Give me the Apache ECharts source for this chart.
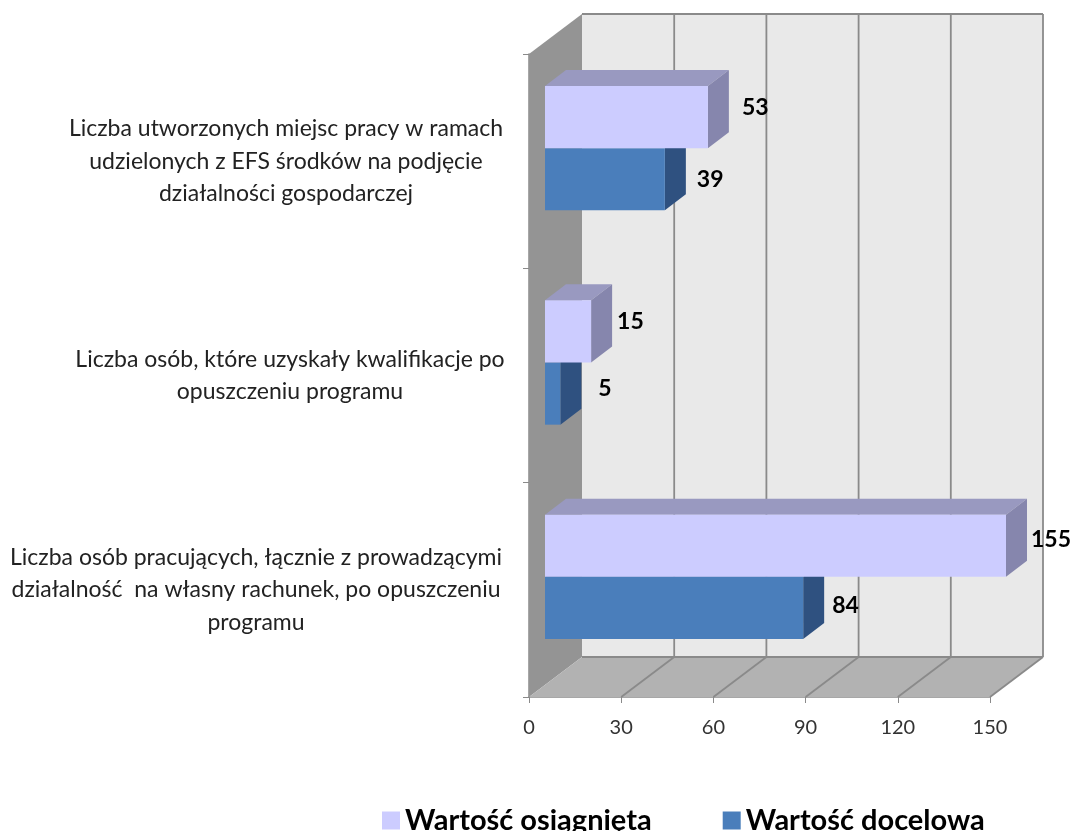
<!DOCTYPE html>
<html>
<head>
<meta charset="utf-8">
<script src="https://cdn.jsdelivr.net/npm/echarts@6/dist/echarts.min.js"></script>
<style>
  html, body { margin: 0; background: #fff; }
  #main { width: 1074px; height: 831px; }
</style>
</head>
<body>
<div id="main"></div>
<script>
const categories = [
  'Liczba utworzonych miejsc pracy w ramach\nudzielonych z EFS środków na podjęcie\ndziałalności gospodarczej',
  'Liczba osób, które uzyskały kwalifikacje po\nopuszczeniu programu',
  'Liczba osób pracujących, łącznie z prowadzącymi\ndziałalność  na własny rachunek, po opuszczeniu\nprogramu'
];
const osiagnieta = [53, 15, 155];
const docelowa = [39, 5, 84];
const xTicks = [0, 30, 60, 90, 120, 150];
const axisMax = 150;

// pseudo-3D offsets, same look as the old Excel chart
const wallDepth = [53, -40];
const barInset = [16, -13];
const barDepth = [21, -16];
const barShare = 0.29;

// Excel placed the data labels unevenly: gap from the side face, lift from bar centre
const gapOsiagnieta = [13, 5, 4];
const gapDocelowa = [11, 17, 8];
const liftOsiagnieta = [10, 10, 6];
const liftDocelowa = [0, 5, 2];

// horizontal shift of each category label, they are not centred on one line
const labelShift = [0, 4, -30];

const font = 'Lato, sans-serif';
const chart = echarts.init(document.getElementById('main'));

function poly(points, fill) {
  return { type: 'polygon', shape: { points: points }, style: { fill: fill } };
}

function line(a, b) {
  return {
    type: 'line',
    shape: { x1: a[0], y1: a[1], x2: b[0], y2: b[1] },
    style: { stroke: '#8a8a8a', lineWidth: 1.8 }
  };
}

function renderWalls(params, api) {
  const dx = wallDepth[0], dy = wallDepth[1];
  const top = params.coordSys.y;
  const bottom = top + params.coordSys.height;
  const x0 = api.coord([0, 0])[0];
  const x1 = api.coord([axisMax, 0])[0];
  const children = [
    poly([[x0 + dx, top + dy], [x1 + dx, top + dy], [x1 + dx, bottom + dy], [x0 + dx, bottom + dy]], '#e9e9e9'),
    poly([[x0, top], [x0 + dx, top + dy], [x0 + dx, bottom + dy], [x0, bottom]], '#949494'),
    poly([[x0, bottom], [x0 + dx, bottom + dy], [x1 + dx, bottom + dy], [x1, bottom]], '#b2b2b2'),
    line([x0 + dx, top + dy], [x1 + dx, top + dy]),
    line([x0 + dx, bottom + dy], [x1 + dx, bottom + dy])
  ];
  xTicks.forEach(v => {
    const x = api.coord([v, 0])[0];
    if (v > 0) children.push(line([x + dx, top + dy], [x + dx, bottom + dy]));
    if (v > 0) children.push(line([x, bottom], [x + dx, bottom + dy]));
  });
  return { type: 'group', children: children };
}

function barRenderer(upper, colors, gaps, lifts) {
  return function (params, api) {
    const value = api.value(0);
    const cat = api.value(1);
    const h = api.size([0, 1])[1] * barShare;
    const mid = api.coord([0, cat])[1] + barInset[1];
    const y0 = upper ? mid - h : mid;
    const y1 = y0 + h;
    const x0 = api.coord([0, cat])[0] + barInset[0];
    const x1 = api.coord([Math.min(value, axisMax), cat])[0] + barInset[0];
    const dx = barDepth[0], dy = barDepth[1];
    return {
      type: 'group',
      children: [
        poly([[x0, y0], [x0 + dx, y0 + dy], [x1 + dx, y0 + dy], [x1, y0]], colors.top),
        poly([[x1, y0], [x1 + dx, y0 + dy], [x1 + dx, y1 + dy], [x1, y1]], colors.side),
        poly([[x0, y0], [x1, y0], [x1, y1], [x0, y1]], colors.front),
        {
          type: 'text',
          style: {
            x: x1 + dx + gaps[params.dataIndex],
            y: (y0 + y1) / 2 - lifts[params.dataIndex],
            text: String(value),
            font: 'bold 23px ' + font,
            fill: '#000',
            verticalAlign: 'middle'
          }
        }
      ]
    };
  };
}

const colorsOsiagnieta = { front: '#ccccff', top: '#9999c0', side: '#8686ad' };
const colorsDocelowa = { front: '#4a7ebb', top: '#3a6496', side: '#2f5180' };

// one rich style per label, a one-sided padding moves a centred line sideways
const richLabels = {};
labelShift.forEach((s, c) => {
  richLabels['c' + c] = {
    fontFamily: font,
    fontSize: 23,
    lineHeight: 32.5,
    color: '#222',
    padding: [0, s < 0 ? -2 * s : 0, 0, s > 0 ? 2 * s : 0]
  };
});

chart.setOption({
  animation: false,
  backgroundColor: '#fff',
  grid: { left: 529, top: 54, width: 461, height: 643 },
  legend: {
    data: ['Wartość osiągnięta', 'Wartość docelowa'],
    left: 377,
    top: 801,
    icon: 'rect',
    itemWidth: 18,
    itemHeight: 18,
    itemGap: 71,
    textStyle: { fontFamily: font, fontWeight: 'bold', fontSize: 29, color: '#000' },
    selectedMode: false
  },
  xAxis: {
    type: 'value',
    min: 0,
    max: axisMax,
    interval: 30,
    splitLine: { show: false },
    axisLine: { show: true, lineStyle: { color: '#8a8a8a', width: 1.5 } },
    axisTick: { show: true, length: 6, lineStyle: { color: '#8a8a8a' } },
    axisLabel: { margin: 21, fontFamily: font, fontSize: 20, color: '#333' }
  },
  yAxis: {
    type: 'category',
    inverse: true,
    data: categories,
    axisLine: { show: true, lineStyle: { color: '#8a8a8a', width: 1.5 } },
    axisTick: { show: true, length: 6, lineStyle: { color: '#8a8a8a' } },
    axisLabel: {
      interval: 0,
      align: 'center',
      margin: 243,
      formatter: function (text, index) {
        return text.split('\n').map(l => '{c' + index + '|' + l + '}').join('\n');
      },
      rich: richLabels
    }
  },
  series: [
    {
      type: 'custom',
      name: 'tlo',
      z: 1,
      silent: true,
      renderItem: renderWalls,
      data: [[0, 0]]
    },
    {
      type: 'custom',
      name: 'Wartość docelowa',
      z: 2,
      itemStyle: { color: colorsDocelowa.front },
      renderItem: barRenderer(false, colorsDocelowa, gapDocelowa, liftDocelowa),
      encode: { x: 0, y: 1 },
      data: docelowa.map((v, i) => [v, i])
    },
    {
      type: 'custom',
      name: 'Wartość osiągnięta',
      z: 3,
      itemStyle: { color: colorsOsiagnieta.front },
      renderItem: barRenderer(true, colorsOsiagnieta, gapOsiagnieta, liftOsiagnieta),
      encode: { x: 0, y: 1 },
      data: osiagnieta.map((v, i) => [v, i])
    }
  ]
});

window.addEventListener('resize', () => chart.resize());
</script>
</body>
</html>
